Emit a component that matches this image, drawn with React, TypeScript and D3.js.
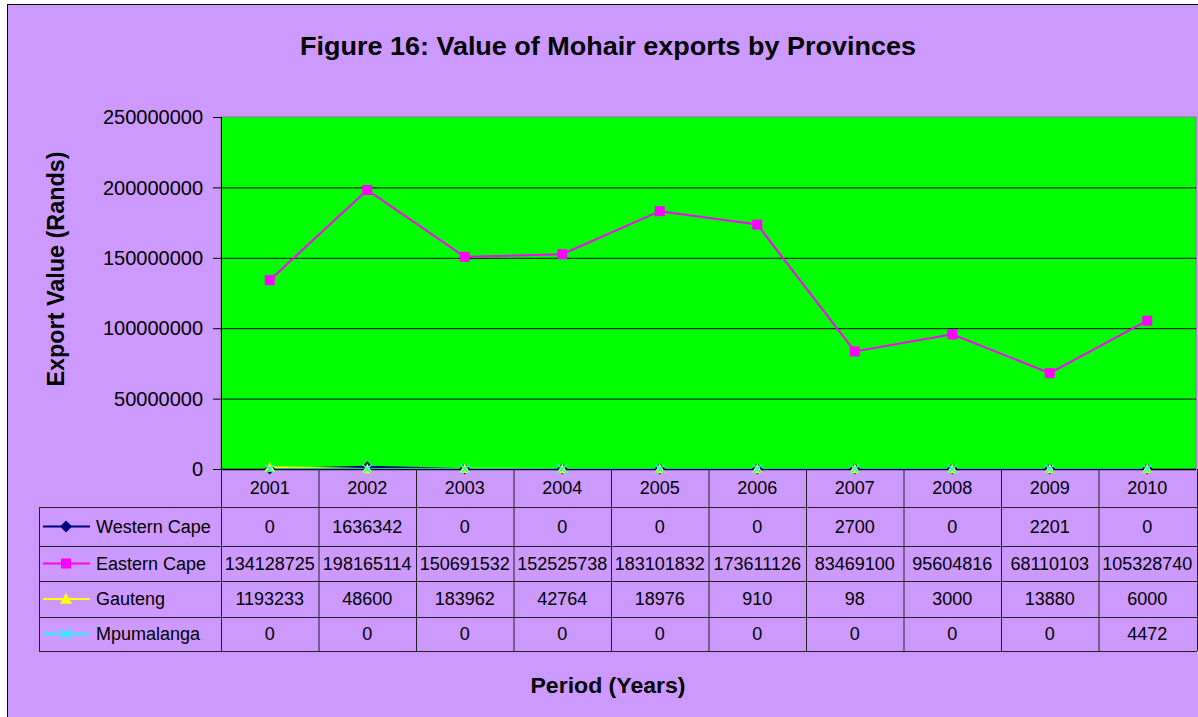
import React from "react";
import * as d3 from "d3";

const years = ["2001", "2002", "2003", "2004", "2005", "2006", "2007", "2008", "2009", "2010"];
const westernCape = [0, 1636342, 0, 0, 0, 0, 2700, 0, 2201, 0];
const easternCape = [134128725, 198165114, 150691532, 152525738, 183101832, 173611126, 83469100, 95604816, 68110103, 105328740];
const gauteng = [1193233, 48600, 183962, 42764, 18976, 910, 98, 3000, 13880, 6000];
const mpumalanga = [0, 0, 0, 0, 0, 0, 0, 0, 0, 4472];
const yTicks = [0, 50000000, 100000000, 150000000, 200000000, 250000000];

const seriesList = [
  { name: "Western Cape", values: westernCape, color: "#000080", marker: "diamond" },
  { name: "Eastern Cape", values: easternCape, color: "#FF00FF", marker: "square" },
  { name: "Gauteng", values: gauteng, color: "#FFFF00", marker: "triangle" },
  { name: "Mpumalanga", values: mpumalanga, color: "#00FFFF", marker: "x" },
];

const W = 1198, H = 717;
const plotL = 221, plotR = 1196, plotT = 117, plotB = 469;
const tableL = 39;
const rowLines = [507, 546, 581, 617, 651];

function Marker({ type, x, y, color, size }: { type: string; x: number; y: number; color: string; size: number }) {
  const s = size;
  if (type === "square") return <rect x={x - s / 2} y={y - s / 2} width={s} height={s} fill={color} />;
  if (type === "diamond") {
    const r = s * 0.6;
    return <path d={`M${x},${y - r}L${x + r},${y}L${x},${y + r}L${x - r},${y}Z`} fill={color} />;
  }
  if (type === "triangle") {
    const r = s * 0.6;
    return <path d={`M${x},${y - r}L${x + r},${y + r * 0.8}L${x - r},${y + r * 0.8}Z`} fill={color} />;
  }
  const r = s / 2;
  return (
    <path d={`M${x - r},${y - r}L${x + r},${y + r}M${x - r},${y + r}L${x + r},${y - r}`} stroke={color} strokeWidth={1.5} fill="none" />
  );
}

export default function App() {
  const x = d3.scaleBand<string>().domain(years).range([plotL, plotR]);
  const y = d3.scaleLinear().domain([0, 250000000]).range([plotB, plotT]);
  const cx = (yr: string) => (x(yr) as number) + x.bandwidth() / 2;
  const line = d3
    .line<number>()
    .x((_, i) => cx(years[i]))
    .y((v) => y(v));
  const rowCenters = rowLines.slice(0, -1).map((r, i) => (r + rowLines[i + 1]) / 2);
  const font = "'Liberation Sans', Arial, sans-serif";
  const colEdges = years.map((yr) => x(yr) as number).concat([plotR + 1]);

  return (
    <svg width={W} height={H} style={{ position: "absolute", left: 0, top: 0 }} fontFamily={font}>
      <rect x={0} y={0} width={W} height={H} fill="#ffffff" />
      <rect x={7.5} y={4.5} width={W + 10} height={H + 10} fill="#CC99FF" stroke="#000" strokeWidth={1} />
      <text x={608} y={55} textAnchor="middle" fontSize={26} fontWeight="bold" textLength={616} lengthAdjust="spacingAndGlyphs">
        Figure 16: Value of Mohair exports by Provinces
      </text>

      {/* plot area */}
      <rect x={plotL} y={plotT} width={plotR - plotL} height={plotB - plotT} fill="#00FF00" stroke="#808080" strokeWidth={1} />
      {yTicks.map((t) => (
        <g key={t}>
          {t > 0 && t < 250000000 && <line x1={plotL} x2={plotR} y1={y(t) + 0.5} y2={y(t) + 0.5} stroke="#000" strokeWidth={1} />}
          <line x1={plotL - 8} x2={plotL} y1={y(t) + 0.5} y2={y(t) + 0.5} stroke="#000" strokeWidth={1} />
          <text x={203} y={y(t)} dy="0.36em" textAnchor="end" fontSize={20}>
            {t}
          </text>
        </g>
      ))}

      {/* series lines */}
      {seriesList.map((s) => (
        <path key={s.name} d={line(s.values) as string} fill="none" stroke={s.color} strokeWidth={2} />
      ))}

      <line x1={plotL + 0.5} x2={plotL + 0.5} y1={plotT} y2={plotB} stroke="#000" />
      <line x1={plotL} x2={plotR} y1={plotB + 0.5} y2={plotB + 0.5} stroke="#000" strokeWidth={1.5} />

      {/* series markers */}
      {seriesList.map((s) => (
        <g key={s.name}>
          {s.values.map((v, i) => (
            <Marker key={i} type={s.marker} x={cx(years[i])} y={y(v)} color={s.color} size={s.name === "Eastern Cape" ? 10 : 9} />
          ))}
        </g>
      ))}

      {/* data table */}
      {colEdges.map((e, i) => (
        <line key={i} x1={e + 0.5} x2={e + 0.5} y1={plotB} y2={rowLines[rowLines.length - 1]} stroke="#222" strokeWidth={1} />
      ))}
      <line x1={tableL + 0.5} x2={tableL + 0.5} y1={rowLines[0]} y2={rowLines[rowLines.length - 1]} stroke="#222" />
      {rowLines.map((r) => (
        <line key={r} x1={tableL} x2={plotR + 1} y1={r + 0.5} y2={r + 0.5} stroke="#222" strokeWidth={1} />
      ))}
      {years.map((yr) => (
        <text key={yr} x={cx(yr)} y={(plotB + rowLines[0]) / 2} dy="0.36em" textAnchor="middle" fontSize={18}>
          {yr}
        </text>
      ))}
      {seriesList.map((s, si) => (
        <g key={s.name}>
          <line x1={43} x2={90} y1={rowCenters[si]} y2={rowCenters[si]} stroke={s.color} strokeWidth={2} />
          <Marker type={s.marker} x={66} y={rowCenters[si]} color={s.color} size={s.name === "Eastern Cape" ? 10 : 10} />
          <text x={96} y={rowCenters[si]} dy="0.36em" fontSize={18}>
            {s.name}
          </text>
          {s.values.map((v, i) => (
            <text key={i} x={cx(years[i])} y={rowCenters[si]} dy="0.36em" textAnchor="middle" fontSize={18}>
              {v}
            </text>
          ))}
        </g>
      ))}

      {/* axis titles */}
      <text
        transform={`translate(64,269) rotate(-90)`}
        textAnchor="middle"
        fontSize={23}
        fontWeight="bold"
        textLength={235}
        lengthAdjust="spacingAndGlyphs"
      >
        Export Value (Rands)
      </text>
      <text x={608} y={693} textAnchor="middle" fontSize={22} fontWeight="bold" textLength={155} lengthAdjust="spacingAndGlyphs">
        Period (Years)
      </text>
    </svg>
  );
}
